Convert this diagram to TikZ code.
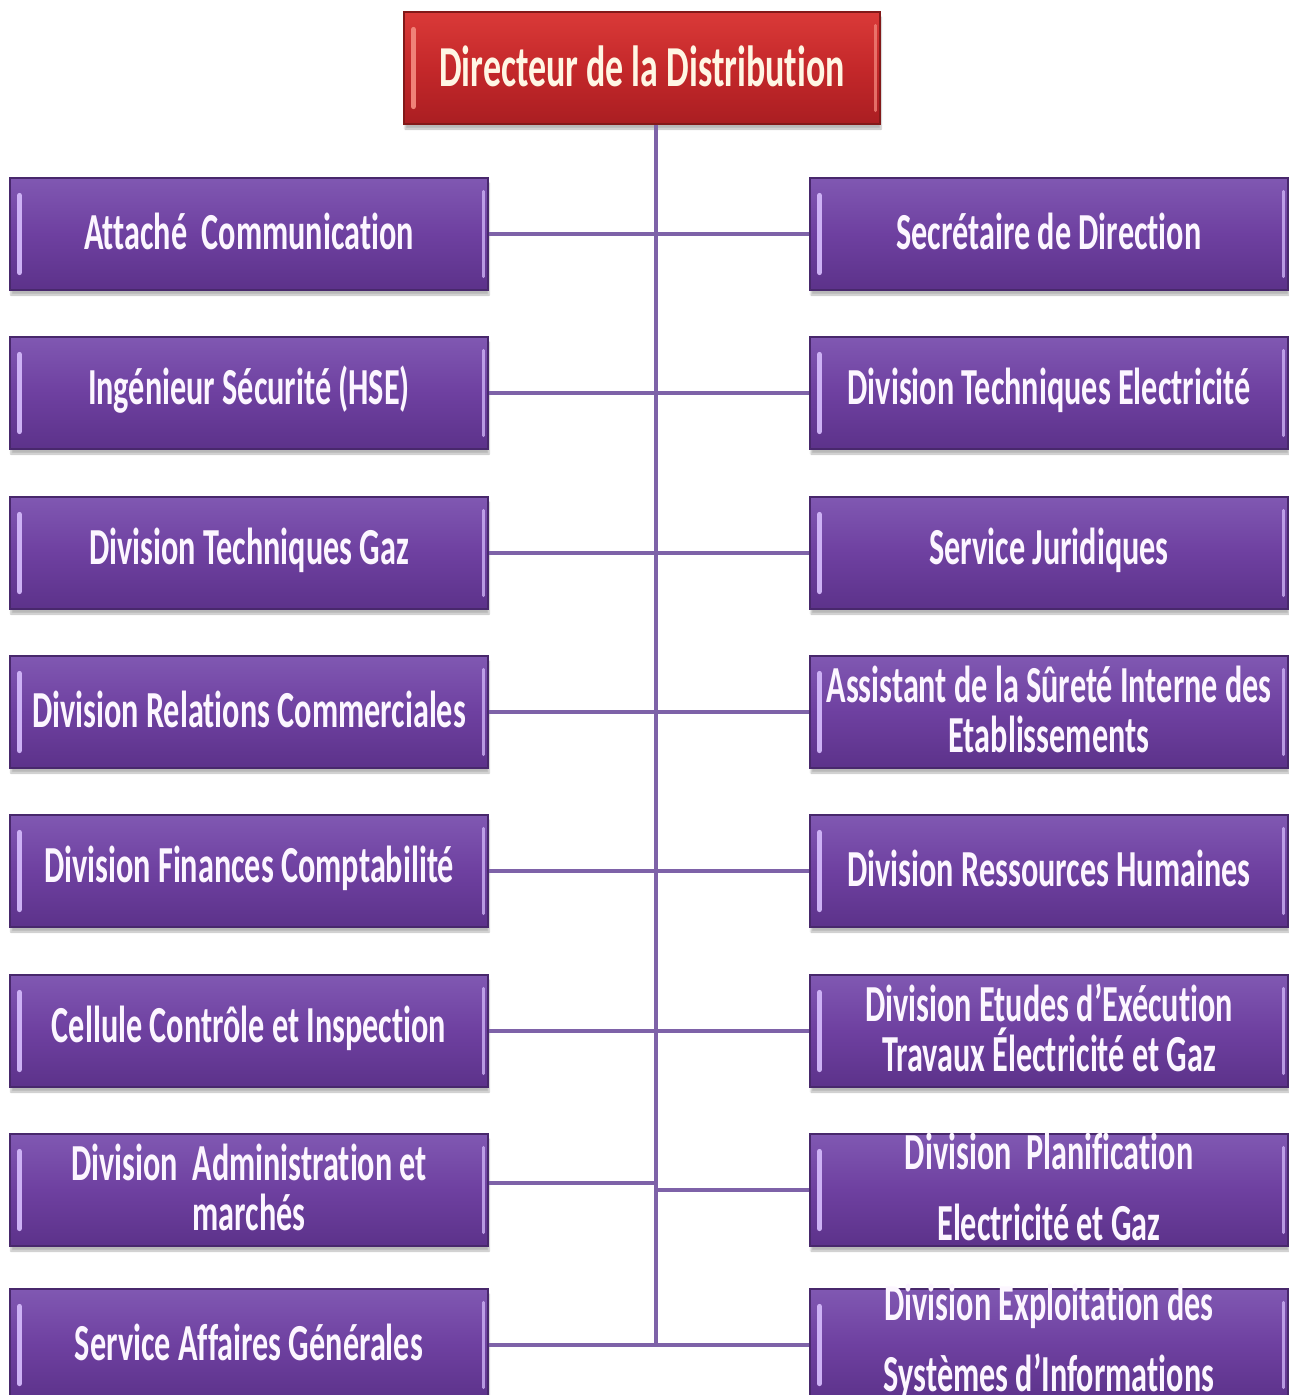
\documentclass[tikz,border=0pt]{standalone}
\usepackage{fontspec}
\newfontfamily\lbl{Carlito}[FakeStretch=0.62, Ligatures=NoCommon, Contextuals=NoAlternate, RawFeature={-liga;-calt;-dlig}]
\usetikzlibrary{shadows.blur}

\definecolor{unitTop}{RGB}{128,88,178}
\definecolor{unitMid}{RGB}{110,64,160}
\definecolor{unitBot}{RGB}{92,50,138}
\definecolor{unitEdge}{RGB}{72,40,108}
\definecolor{bevelHi}{RGB}{205,178,245}
\definecolor{chiefTop}{RGB}{218,58,56}
\definecolor{chiefMid}{RGB}{196,40,42}
\definecolor{chiefBot}{RGB}{170,30,34}
\definecolor{chiefEdge}{RGB}{130,25,25}
\definecolor{chiefHi}{RGB}{240,130,120}
\definecolor{linkCol}{RGB}{126,98,168}
\definecolor{textCol}{RGB}{252,246,255}

\tikzset{
  unit/.style={rectangle, minimum width=478pt, minimum height=112pt, inner sep=0pt,
    top color=unitTop, bottom color=unitBot, middle color=unitMid,
    draw=unitEdge, line width=1.2pt,
    blur shadow={shadow xshift=1pt, shadow yshift=-5pt, shadow blur steps=6, shadow opacity=28}},
  chiefbox/.style={rectangle, minimum width=476pt, minimum height=112pt, inner sep=0pt,
    top color=chiefTop, bottom color=chiefBot, middle color=chiefMid,
    draw=chiefEdge, line width=1.2pt,
    blur shadow={shadow xshift=1pt, shadow yshift=-5pt, shadow blur steps=6, shadow opacity=28}},
  bevel/.style={line width=5pt, line cap=round, draw=bevelHi},
  chiefbevel/.style={line width=5pt, line cap=round, draw=chiefHi},
  caption/.style={text=textCol, align=center, inner sep=0pt,
    font=\lbl\bfseries\fontsize{52}{50}\selectfont},
  tallcaption/.style={font=\lbl\bfseries\fontsize{52}{71}\selectfont},
  link/.style={draw=linkCol, line width=4.5pt},
}

% box with bevelled sides and a centred caption
\newcommand\orgbox[4][]{%
  \node[unit] (#2) at (#3) {};
  \draw[bevel] ([xshift=10pt,yshift=-18pt]#2.north west) -- ([xshift=10pt,yshift=18pt]#2.south west);
  \draw[bevel, line width=3pt, opacity=0.8] ([xshift=-5pt,yshift=-14pt]#2.north east) -- ([xshift=-5pt,yshift=14pt]#2.south east);
  \node[caption,#1] (#2-text) at ([yshift=3pt]#2.center) {#4};
}

\begin{document}
\begin{tikzpicture}[x=1pt,y=-1pt]
\useasboundingbox (0,0) rectangle (1288,1395);

% head of the organisation
\node[chiefbox] (chief) at (642,68) {};
\draw[chiefbevel] ([xshift=10pt,yshift=-18pt]chief.north west) -- ([xshift=10pt,yshift=18pt]chief.south west);
\draw[chiefbevel, line width=3pt, opacity=0.8] ([xshift=-5pt,yshift=-14pt]chief.north east) -- ([xshift=-5pt,yshift=14pt]chief.south east);
\node[caption, text={rgb,255:red,255;green,246;blue,228}, font=\lbl\bfseries\fontsize{58}{60}\selectfont] (chief-text) at (642,66) {Directeur de la Distribution};

% left column
\orgbox{L1}{249,234}{Attaché~~Communication}
\orgbox{L2}{249,393}{Ingénieur Sécurité (HSE)}
\orgbox{L3}{249,553}{Division Techniques Gaz}
\orgbox{L4}{249,712}{Division Relations Commerciales}
\orgbox{L5}{249,871}{Division Finances Comptabilité}
\orgbox{L6}{249,1031}{Cellule Contrôle et Inspection}
\orgbox{L7}{249,1190}{Division~~Administration et\\marchés}
\orgbox{L8}{249,1345}{Service Affaires Générales}

% right column
\orgbox{R1}{1049,234}{Secrétaire de Direction}
\orgbox{R2}{1049,393}{Division Techniques Electricité}
\orgbox{R3}{1049,553}{Service Juridiques}
\orgbox{R4}{1049,712}{Assistant de la Sûreté Interne des\\Etablissements}
\orgbox{R5}{1049,871}{Division Ressources Humaines}
\orgbox{R6}{1049,1031}{Division Etudes d’Exécution\\Travaux Électricité et Gaz}
\orgbox[tallcaption]{R7}{1049,1190}{Division~~Planification\\Electricité et Gaz}
\orgbox[tallcaption]{R8}{1049,1345}{Division Exploitation des\\Systèmes d’Informations}

% connectors
\coordinate (spine) at (656,0);
\draw[link] (spine |- chief.south) -- (spine |- L8.east);
\foreach \r in {1,...,6}{
  \draw[link] (L\r.east) -- (R\r.west);
}
\coordinate (L7a) at ([yshift=7pt]L7.east);
\draw[link] (L7a) -- (L7a -| spine);
\draw[link] (R7.west) -- (R7.west -| spine);
\draw[link] (L8.east) -- (R8.west |- L8.east);
\end{tikzpicture}
\end{document}
